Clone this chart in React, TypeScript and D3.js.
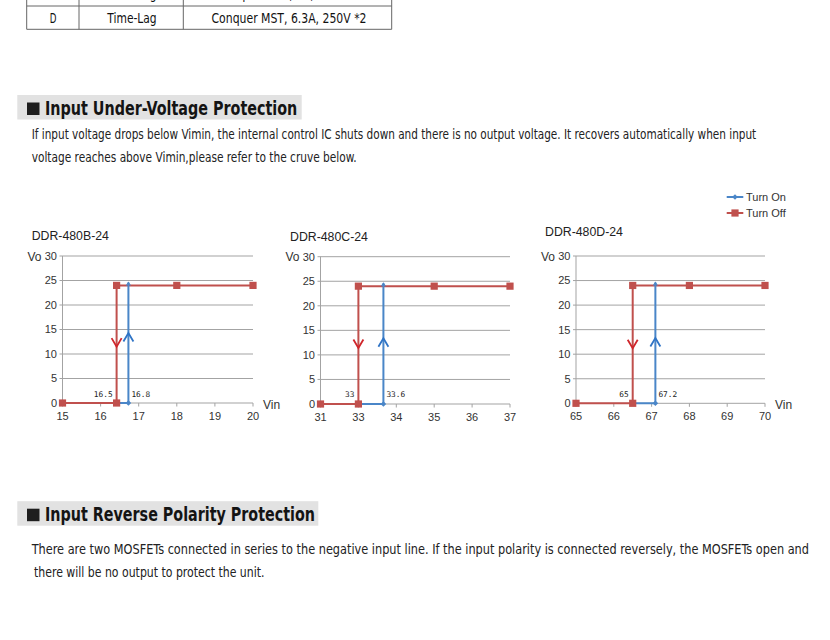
import React from 'react';
import * as d3 from 'd3';

// ---------- data ----------
const chartTitles = ['DDR-480B-24', 'DDR-480C-24', 'DDR-480D-24'];
const xTicksB = [15, 16, 17, 18, 19, 20];
const xTicksC = [31, 33, 34, 35, 36, 37];
const xTicksD = [65, 66, 67, 68, 69, 70];
const yTickValues = [0, 5, 10, 15, 20, 25, 30];

const turnOffB: [number, number][] = [[15, 0], [16.42, 0], [16.42, 24], [18, 24], [20, 24]];
const turnOnB: [number, number][] = [[16.42, 0], [16.73, 0], [16.73, 24.6]];
const turnOffC: [number, number][] = [[31, 0], [33, 0], [33, 24], [35, 24], [37, 24]];
const turnOnC: [number, number][] = [[33, 0], [33.66, 0], [33.66, 24.6]];
const turnOffD: [number, number][] = [[65, 0], [66.5, 0], [66.5, 24], [68, 24], [70, 24]];
const turnOnD: [number, number][] = [[66.5, 0], [67.1, 0], [67.1, 24.6]];

const offLabels = ['16.5', '33', '65'];
const onLabels = ['16.8', '33.6', '67.2'];
const offArrowTips = [11.5, 11.4, 11.2];
const onArrowTips = [14.3, 13.4, 13.3];
const seriesNames = ['Turn On', 'Turn Off'];

const tableRowPrev = ['C', 'Time-Lag', 'Conquer MST, 8A, 250V *2'];
const tableRowD = ['D', 'Time-Lag', 'Conquer MST, 6.3A, 250V *2'];

const heading1 = 'Input Under-Voltage Protection';
const body1 = [
  'If input voltage drops below Vimin, the internal control IC shuts down and there is no output voltage. It recovers automatically when input',
  'voltage reaches above Vimin,please refer to the cruve below.',
];
const heading2 = 'Input Reverse Polarity Protection';
const body2 = [
  'There are two MOSFETs connected in series to the negative input line. If the input polarity is connected reversely, the MOSFETs open and',
  ' there will be no output to protect the unit.',
];

// ---------- layout / style ----------
const narrowFont = "'Liberation Sans Narrow', 'DejaVu Sans Condensed', 'Liberation Sans', Arial, sans-serif";
const chartFont = "'Liberation Sans', Arial, sans-serif";
const RED = '#c0504d';
const RED_ARROW = '#d0262b';
const BLUE = '#4a86c8';
const BLUE_ARROW = '#2f74c6';
const GRID = '#a3a3a3';

const layouts = [
  { left: 62.5, right: 253, top: 256, bottom: 403, titleX: 31.7, titleY: 240, showVin: true },
  { left: 320.5, right: 510, top: 256.7, bottom: 404, titleX: 290, titleY: 241, showVin: false },
  { left: 576, right: 765, top: 256, bottom: 403.3, titleX: 545, titleY: 236, showVin: true },
];

const chartData = [
  { ticks: xTicksB, off: turnOffB, on: turnOnB },
  { ticks: xTicksC, off: turnOffC, on: turnOnC },
  { ticks: xTicksD, off: turnOffD, on: turnOnD },
];

function Chart({ i }: { i: number }) {
  const L = layouts[i];
  const { ticks, off, on } = chartData[i];
  const step = (L.right - L.left) / (ticks.length - 1);
  const x = d3.scaleLinear().domain(ticks).range(ticks.map((_, k) => L.left + k * step));
  const y = d3.scaleLinear().domain([0, 30]).range([L.bottom, L.top]);
  const line = d3.line<[number, number]>().x(d => x(d[0])).y(d => y(d[1]));
  const offX = x(off[1][0]);
  const onX = x(on[1][0]);
  const onTop = on[on.length - 1];
  const rt = y(offArrowTips[i]);
  const bt = y(onArrowTips[i]);
  return (
    <g fontFamily={chartFont}>
      <text x={L.titleX} y={L.titleY} fontSize={12.3} fill="#222">{chartTitles[i]}</text>
      <text x={L.left - 35} y={261} fontSize={12} fill="#333">Vo</text>
      {L.showVin && (
        <text x={L.right + 10} y={409} fontSize={12} fill="#333">Vin</text>
      )}
      {yTickValues.map(v => (
        <g key={v}>
          <line x1={L.left - 3} x2={L.right} y1={y(v)} y2={y(v)} stroke={GRID} strokeWidth={1} />
          <text x={L.left - 5.5} y={y(v)} dy="0.35em" textAnchor="end" fontSize={11} fill="#333">{v}</text>
        </g>
      ))}
      <line x1={L.left} x2={L.left} y1={L.top} y2={L.bottom} stroke={GRID} strokeWidth={1} />
      {ticks.map(t => (
        <g key={t}>
          <line x1={x(t)} x2={x(t)} y1={L.bottom} y2={L.bottom + 3.5} stroke={GRID} strokeWidth={1} />
          <text x={x(t)} y={L.bottom + 17} textAnchor="middle" fontSize={11} fill="#333">{t}</text>
        </g>
      ))}
      {/* series lines */}
      <path d={line(off) || ''} fill="none" stroke={RED} strokeWidth={2} />
      <path d={line(on) || ''} fill="none" stroke={BLUE} strokeWidth={2} />
      <polyline
        points={`${x(onTop[0]) - 2},${y(onTop[1]) + 3} ${x(onTop[0])},${y(onTop[1])} ${x(onTop[0]) + 2},${y(onTop[1]) + 3}`}
        fill="none" stroke={BLUE} strokeWidth={1.2} />
      {off.map((d, k) => (
        <rect key={k} x={x(d[0]) - 3.6} y={y(d[1]) - 3.6} width={7.2} height={7.2} fill={RED} />
      ))}
      <path d={`M${onX},${y(0) - 2.8}L${onX + 2.8},${y(0)}L${onX},${y(0) + 2.8}L${onX - 2.8},${y(0)}Z`} fill={BLUE} />
      {/* direction arrows */}
      <polyline points={`${offX - 5},${rt - 8.5} ${offX},${rt} ${offX + 5},${rt - 8.5}`} fill="none" stroke={RED_ARROW} strokeWidth={1.8} />
      <polyline points={`${onX - 5},${bt + 8.5} ${onX},${bt} ${onX + 5},${bt + 8.5}`} fill="none" stroke={BLUE_ARROW} strokeWidth={1.8} />
      {/* data labels */}
      <text x={offX - 4} y={396.5} textAnchor="end" fontSize={7.8} fontFamily="'DejaVu Sans Mono', monospace" fill="#222">{offLabels[i]}</text>
      <text x={onX + 3} y={396.5} textAnchor="start" fontSize={7.8} fontFamily="'DejaVu Sans Mono', monospace" fill="#222">{onLabels[i]}</text>
    </g>
  );
}

function Legend() {
  return (
    <g fontFamily={chartFont} fontSize={11} fill="#333">
      <line x1={726.7} x2={743.3} y1={197} y2={197} stroke={BLUE} strokeWidth={2} />
      <path d="M735,194.2L737.8,197L735,199.8L732.2,197Z" fill={BLUE} />
      <text x={746} y={200.8}>{seriesNames[0]}</text>
      <line x1={726.7} x2={743.3} y1={213} y2={213} stroke={RED} strokeWidth={2} />
      <rect x={731.4} y={209.4} width={7.2} height={7.2} fill={RED} />
      <text x={746} y={216.8}>{seriesNames[1]}</text>
    </g>
  );
}

function Table() {
  const cols = [26.7, 79, 183.3, 391.7];
  const centers = [53, 132, 289];
  const widthsD = [6.7, 49.3, 155];
  const widthsPrev = [7, 49.3, 143];
  return (
    <g fontFamily={narrowFont} fontSize={14} fill="#111">
      {tableRowPrev.map((t, k) => (
        <text key={'p' + k} x={centers[k]} y={-0.6} textAnchor="middle" textLength={widthsPrev[k]} lengthAdjust="spacingAndGlyphs">{t}</text>
      ))}
      {tableRowD.map((t, k) => (
        <text key={'d' + k} x={centers[k]} y={22.7} textAnchor="middle" textLength={widthsD[k]} lengthAdjust="spacingAndGlyphs">{t}</text>
      ))}
      <line x1={cols[0]} x2={cols[3]} y1={6} y2={6} stroke="#666" strokeWidth={1} />
      <line x1={cols[0]} x2={cols[3]} y1={29.3} y2={29.3} stroke="#666" strokeWidth={1} />
      {cols.map((c, k) => (
        <line key={k} x1={c} x2={c} y1={0} y2={29.3} stroke="#666" strokeWidth={1} />
      ))}
    </g>
  );
}

function Heading({ y, text, boxRight, textLen }: { y: number; text: string; boxRight: number; textLen: number }) {
  return (
    <g>
      <rect x={17.3} y={y} width={boxRight - 17.3} height={24.5} fill="#e2e2e2" />
      <rect x={27} y={y + 7.5} width={12.5} height={12.5} fill="#1e1e1e" />
      <text x={45} y={y + 20} fontFamily={narrowFont} fontWeight="bold" fontSize={19.5} fill="#141414"
        textLength={textLen} lengthAdjust="spacingAndGlyphs">{text}</text>
    </g>
  );
}

export default function App() {
  return (
    <svg width={830} height={640} style={{ position: 'absolute', left: 0, top: 0, background: '#fff' }}>
      <rect x={0} y={0} width={830} height={640} fill="#fff" />
      <Table />
      <Heading y={95} text={heading1} boxRight={301.7} textLen={252.3} />
      <g fontFamily={narrowFont} fontSize={14} fill="#222">
        <text x={31.7} y={139.3} textLength={724.5} lengthAdjust="spacingAndGlyphs">{body1[0]}</text>
        <text x={31.7} y={162} textLength={325} lengthAdjust="spacingAndGlyphs">{body1[1]}</text>
      </g>
      <Legend />
      {[0, 1, 2].map(i => <Chart key={i} i={i} />)}
      <Heading y={501.2} text={heading2} boxRight={318.3} textLen={270} />
      <g fontFamily={narrowFont} fontSize={14} fill="#222">
        <text x={31.7} y={553.5} textLength={777.3} lengthAdjust="spacingAndGlyphs">{body2[0]}</text>
        <text x={34} y={577} textLength={230.5} lengthAdjust="spacingAndGlyphs">{body2[1].trim()}</text>
      </g>
    </svg>
  );
}
